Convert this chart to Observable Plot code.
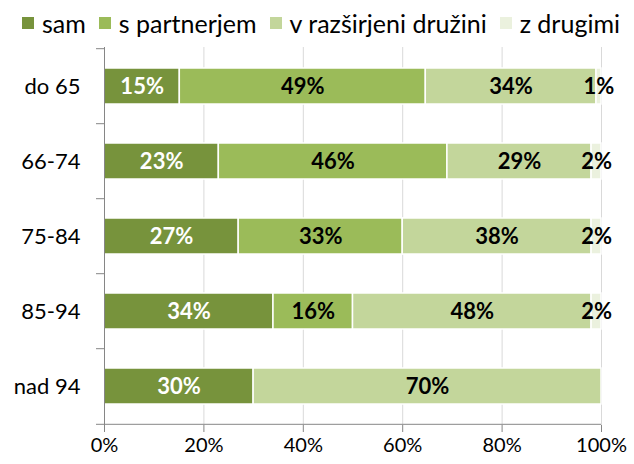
<!DOCTYPE html>
<html><head><meta charset="utf-8">
<script src="https://cdn.jsdelivr.net/npm/d3@7"></script>
<script src="https://cdn.jsdelivr.net/npm/@observablehq/plot@0.6"></script>
<style>
body{margin:0;background:#fff;font-family:Lato,sans-serif;}
#legend{height:40px;display:flex;align-items:center;padding:6px 0 0 22px;box-sizing:border-box;font-size:25px;color:#000;white-space:nowrap;}
.item{display:flex;align-items:center;margin-right:13px;}
.sw{width:12px;height:12px;margin-right:8px;flex:none;}
</style>
</head><body>
<div id="legend"></div>
<div id="chart"></div>
<script>
const categories = ["do 65", "66-74", "75-84", "85-94", "nad 94"];
const series = ["sam", "s partnerjem", "v razširjeni družini", "z drugimi"];
const sam = [15, 23, 27, 34, 30];
const sPartnerjem = [49, 46, 33, 16, 0];
const vRazsirjeni = [34, 29, 38, 48, 70];
const zDrugimi = [1, 2, 2, 2, 0];
const colors = ["#77933C", "#9BBB59", "#C3D69B", "#EBF1DE"];
const xTicks = [0, 0.2, 0.4, 0.6, 0.8, 1];

const seriesValues = [sam, sPartnerjem, vRazsirjeni, zDrugimi];
const rows = [];
categories.forEach((c, i) => series.forEach((s, j) => rows.push({cat: c, series: s, value: seriesValues[j][i]})));

const legend = document.getElementById("legend");
series.forEach((s, j) => {
  const it = document.createElement("div"); it.className = "item";
  const sw = document.createElement("span"); sw.className = "sw"; sw.style.background = colors[j];
  const tx = document.createElement("span"); tx.textContent = s;
  it.append(sw, tx); legend.append(it);
});

const W = 634, H = 424, mt = 7, mb = 39;
const step = (H - mt - mb) / categories.length;
const axisColor = "#868686";
const lab = d => d.value > 0 ? d.value + "%" : "";

const chart = Plot.plot({
  width: W, height: H, marginTop: mt, marginBottom: mb, marginLeft: 104, marginRight: 33,
  style: {fontFamily: "Lato, sans-serif", fontSize: "20px", color: "#000", background: "white", overflow: "visible"},
  x: {domain: [0, 1], label: null},
  y: {domain: categories, paddingInner: 0.52, paddingOuter: 0.26, label: null},
  color: {domain: series, range: colors},
  marks: [
    Plot.gridX(xTicks, {stroke: "#D9D9D9", strokeOpacity: 1}),
    Plot.barX(rows, Plot.stackX({x: "value", y: "cat", fill: "series", order: series, offset: "normalize", stroke: "white", strokeWidth: 1.5})),
    Plot.text(rows, Plot.stackX({x: "value", y: "cat", z: "series", order: series, offset: "normalize",
      text: d => d.series === "sam" ? lab(d) : "", fill: "white", fontWeight: "bold", fontSize: 22})),
    Plot.text(rows, Plot.stackX({x: "value", y: "cat", z: "series", order: series, offset: "normalize",
      text: d => d.series !== "sam" ? lab(d) : "", fill: "black", fontWeight: "bold", fontSize: 22})),
    Plot.ruleX([0], {stroke: axisColor}),
    Plot.ruleY([categories[categories.length - 1]], {x1: 0, x2: 1, dy: step / 2, stroke: axisColor}),
    Plot.axisX(xTicks, {tickSize: 7, tickPadding: 5, stroke: axisColor, fill: "#000", fontSize: 20, tickFormat: d3.format(".0%"), label: null}),
    Plot.axisY({tickSize: 0, tickPadding: 24, fontSize: 22, fill: "#000", label: null}),
    Plot.axisY({text: null, tickSize: 8, dy: -step / 2, stroke: axisColor, label: null}),
    Plot.axisY([categories[categories.length - 1]], {text: null, tickSize: 8, dy: step / 2, stroke: axisColor, label: null})
  ]
});
document.getElementById("chart").append(chart);
</script>
</body></html>
